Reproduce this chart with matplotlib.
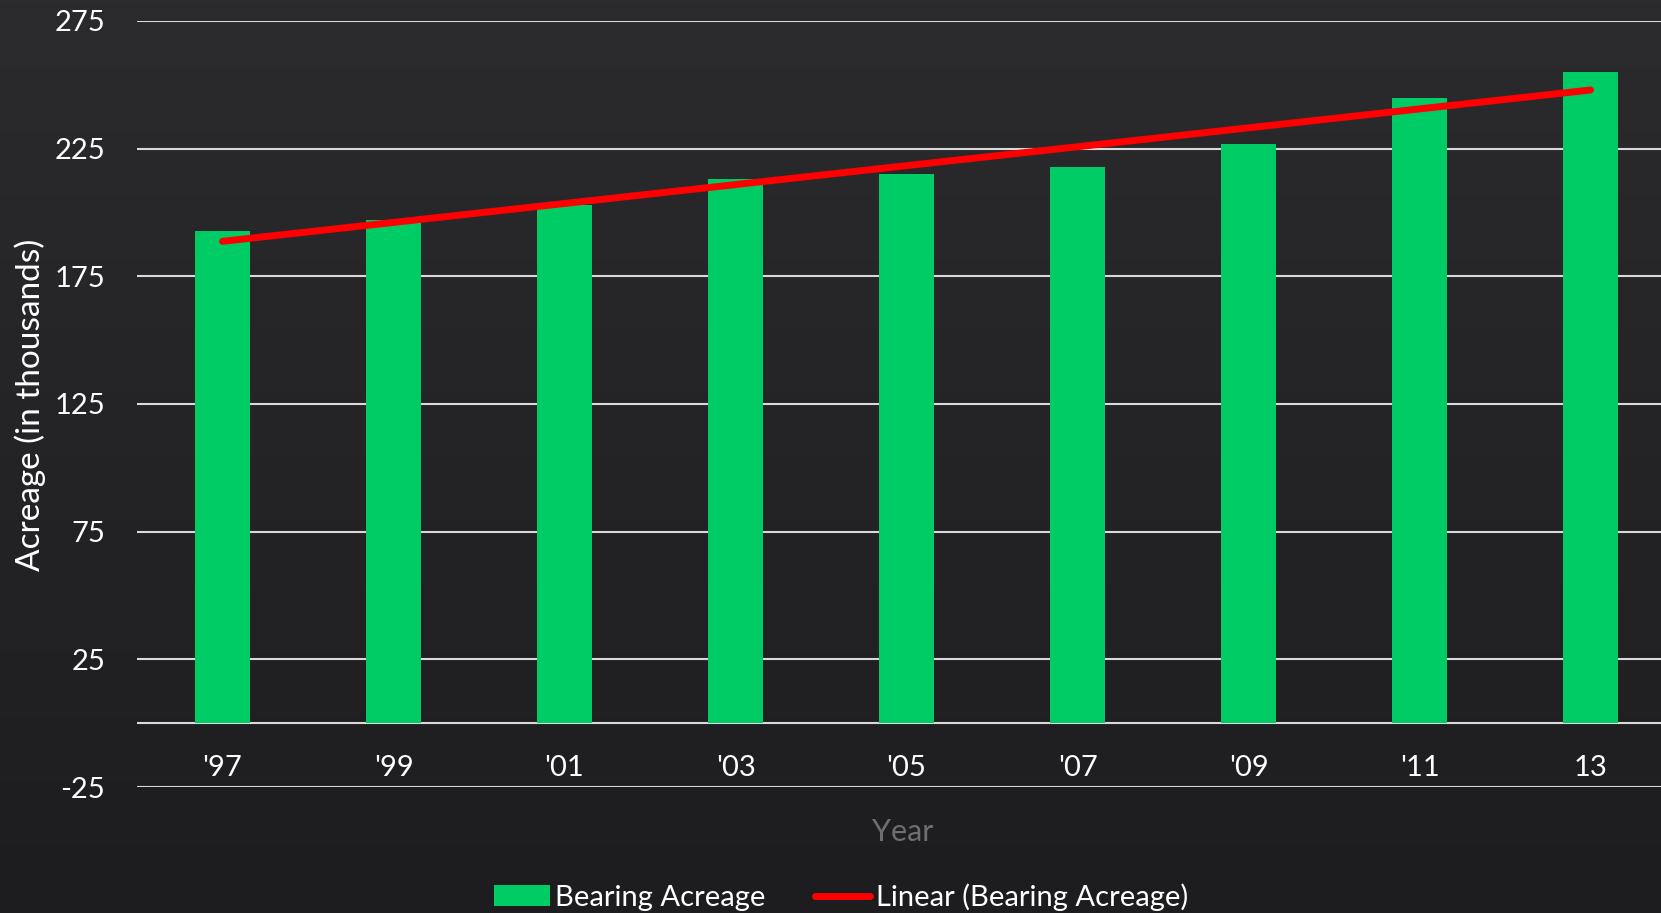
import numpy as np
import matplotlib.pyplot as plt

# chart data
years = ["'97", "'99", "'01", "'03", "'05", "'07", "'09", "'11", "13"]
bearing_acreage = [192.8, 197.0, 202.9, 213.0, 215.0, 217.9, 226.8, 244.8, 254.9]
y_ticks = [-25, 25, 75, 125, 175, 225, 275]

bar_color = '#00cc66'
line_color = '#ff0000'
grid_color = '#d9d9d9'

plt.rcParams['font.family'] = ['Lato', 'DejaVu Sans']
plt.rcParams['axes.unicode_minus'] = False

fig = plt.figure(figsize=(16.61, 9.13), dpi=100)

# dark background gradient
bg = fig.add_axes([0, 0, 1, 1], zorder=-10)
grad = np.linspace(0, 1, 256).reshape(-1, 1)
bg.imshow(grad, aspect='auto', cmap=plt.matplotlib.colors.LinearSegmentedColormap.from_list(
    'bg', ['#2b2b2e', '#1d1d1f']), extent=[0, 1, 0, 1])
bg.axis('off')

ax = fig.add_axes([137 / 1661, 1 - 787 / 913, 1539 / 1661, 766 / 913])
ax.patch.set_alpha(0)

x = np.arange(len(years))
bars = ax.bar(x, bearing_acreage, width=0.316, color=bar_color, zorder=3,
              label='Bearing Acreage')

# linear trendline through the bars
slope, intercept = np.polyfit(x, bearing_acreage, 1)
trend, = ax.plot(x[[0, -1]], slope * x[[0, -1]] + intercept, color=line_color, lw=5,
                 solid_capstyle='round', zorder=4, label='Linear (Bearing Acreage)')

ax.set_xlim(-0.5, len(years) - 0.5)
ax.set_ylim(-25, 275)
ax.set_yticks(y_ticks)
for t in y_ticks:
    ax.axhline(t, color=grid_color, lw=1.5, zorder=1)
ax.axhline(0, color=grid_color, lw=1.5, zorder=2)

for s in ax.spines.values():
    s.set_visible(False)
ax.tick_params(axis='y', length=0, pad=23, labelsize=21, labelcolor='white')
ax.set_xticks(x)
ax.set_xticklabels(years)
ax.tick_params(axis='x', length=0, pad=-23, labelsize=21, labelcolor='white')

fig.text(30 / 1661, 1 - 405 / 913, 'Acreage (in thousands)', rotation=90,
         ha='center', va='center', color='white', fontsize=24)
fig.text(903 / 1661, 1 - 832 / 913, 'Year', ha='center', va='center',
         color='#6e6e6e', fontsize=22)

leg = fig.legend(handles=[bars, trend], loc='center',
                 bbox_to_anchor=(841 / 1661, 1 - 897 / 913), ncol=2,
                 frameon=False, fontsize=21, handlelength=1.9, handletextpad=0.18,
                 columnspacing=1.7, handleheight=0.7)
for t in leg.get_texts():
    t.set_color('white')

fig.savefig('out.png', dpi=100)
